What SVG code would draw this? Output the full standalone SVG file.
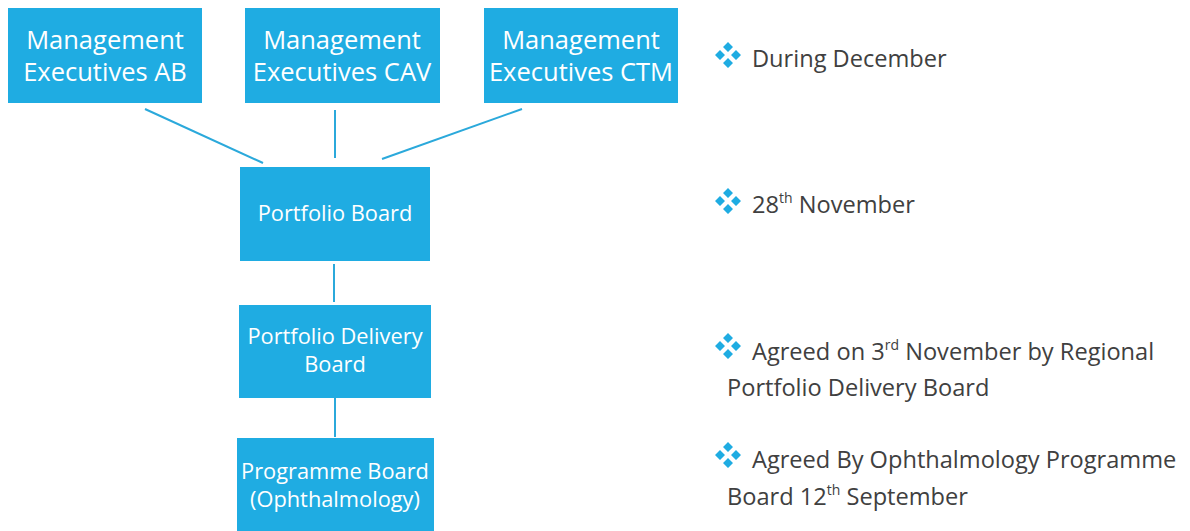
<svg xmlns="http://www.w3.org/2000/svg" width="1190" height="531" viewBox="0 0 1190 531">
<defs>
<style>
.box{fill:#1FACE2}
.bt{font-family:"Open Sans","Noto Sans",sans-serif;fill:#ffffff;text-anchor:middle}
.big{font-size:25.5px}
.mid{font-size:21.8px}
.rt{font-family:"Open Sans","Noto Sans",sans-serif;fill:#404040;font-size:23.6px}
.conn{stroke:#2BA9DB;stroke-width:2;fill:none}
.bul{fill:#1FACE2}
</style>
<g id="bullet">
<path class="bul" d="M0,-13 L5,-8 L0,-3 L-5,-8Z M-8,-5 L-3,0 L-8,5 L-13,0Z M8,-5 L13,0 L8,5 L3,0Z M0,3 L5,8 L0,13 L-5,8Z"/>
</g>
</defs>
<rect width="1190" height="531" fill="#ffffff"/>
<g id="connectors">
<line class="conn" x1="145" y1="109" x2="263" y2="163"/>
<line class="conn" x1="335" y1="110" x2="335" y2="158"/>
<line class="conn" x1="522" y1="109" x2="382" y2="159"/>
<line class="conn" x1="334" y1="264" x2="334" y2="302"/>
<line class="conn" x1="335" y1="398" x2="335" y2="437"/>
</g>
<g id="node-ab">
<rect class="box" x="8" y="8" width="194" height="95"/>
<text class="bt big" x="105" y="49">Management</text>
<text class="bt big" x="105" y="81">Executives AB</text>
</g>
<g id="node-cav">
<rect class="box" x="245" y="8" width="195" height="95"/>
<text class="bt big" x="342" y="49">Management</text>
<text class="bt big" x="342" y="81">Executives CAV</text>
</g>
<g id="node-ctm">
<rect class="box" x="484" y="8" width="194" height="95"/>
<text class="bt big" x="581" y="49">Management</text>
<text class="bt big" x="581" y="81">Executives CTM</text>
</g>
<g id="node-portfolio">
<rect class="box" x="240" y="167" width="190" height="94"/>
<text class="bt mid" x="335" y="221">Portfolio Board</text>
</g>
<g id="node-delivery">
<rect class="box" x="239" y="305" width="192" height="93"/>
<text class="bt mid" x="335" y="344">Portfolio Delivery</text>
<text class="bt mid" x="335" y="372">Board</text>
</g>
<g id="node-programme">
<rect class="box" x="237" y="438" width="197" height="93"/>
<text class="bt mid" x="335" y="479">Programme Board</text>
<text class="bt mid" x="335" y="507">(Ophthalmology)</text>
</g>
<g id="notes">
<use href="#bullet" x="728" y="55"/>
<text class="rt" x="752" y="67">During December</text>
<use href="#bullet" x="728" y="201"/>
<text class="rt" x="752" y="213">28<tspan font-size="14" dy="-10">th</tspan><tspan dy="10"> November</tspan></text>
<use href="#bullet" x="728" y="346"/>
<text class="rt" x="752" y="360">Agreed on 3<tspan font-size="14" dy="-10">rd</tspan><tspan dy="10"> November by Regional</tspan></text>
<text class="rt" x="727" y="396">Portfolio Delivery Board</text>
<use href="#bullet" x="728" y="455"/>
<text class="rt" x="752" y="468">Agreed By Ophthalmology Programme</text>
<text class="rt" x="727" y="505">Board 12<tspan font-size="14" dy="-10">th</tspan><tspan dy="10"> September</tspan></text>
</g>
</svg>
